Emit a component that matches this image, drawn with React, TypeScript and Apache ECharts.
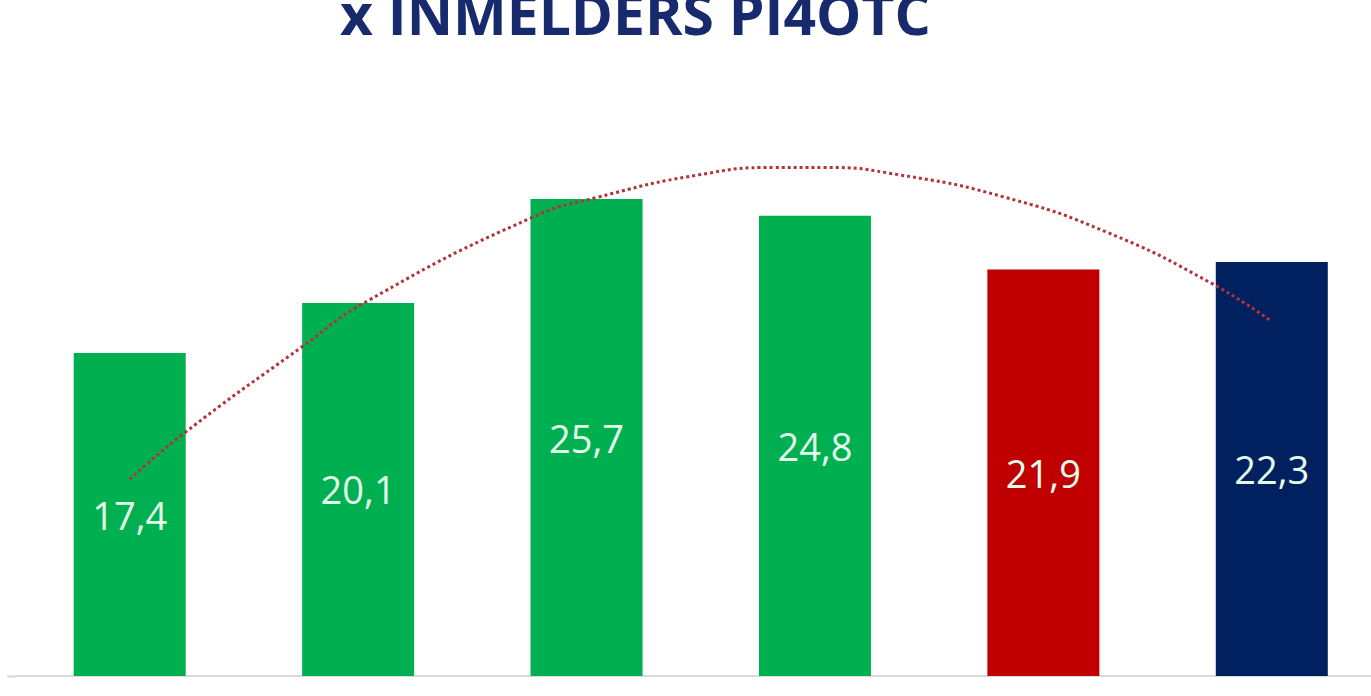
import React, { useEffect, useRef } from "react";
import * as echarts from "echarts";

const categories = ["1", "2", "3", "4", "5", "6"];
const values = [17.4, 20.1, 25.7, 24.8, 21.9, 22.3];
const barColors = ["#00b050", "#00b050", "#00b050", "#00b050", "#c00000", "#002060"];
const labels = ["17,4", "20,1", "25,7", "24,8", "21,9", "22,3"];
// trend curve: [category position, value]
const trendX = [0, 0.24, 0.75, 1.04, 1.76, 2.05, 2.49, 2.82, 3.04, 3.37, 3.83, 4.28, 4.73, 5];
const trendY = [10.6, 13.1, 17.7, 20.2, 24.7, 25.8, 27.0, 27.4, 27.4, 27.0, 25.8, 23.9, 21.2, 19.1];
const titleText = "x INMELDERS PI4OTC";

export default function App() {
  const ref = useRef<HTMLDivElement>(null);
  useEffect(() => {
    document.body.style.margin = "0";
    document.body.style.overflow = "hidden";
    document.documentElement.style.overflow = "hidden";
    const chart = echarts.init(ref.current!, undefined, { renderer: "svg" });
    chart.setOption({
      animation: false,
      backgroundColor: "#ffffff",
      graphic: [
        {
          type: "text",
          left: 340,
          top: -16,
          style: {
            text: titleText,
            fill: "#172a6e",
            font: "bold 57px 'Open Sans', sans-serif",
          },
        },
        {
          type: "line",
          shape: { x1: 7, y1: 676.5, x2: 16, y2: 676.5 },
          style: { stroke: "#d9d9d9", lineWidth: 2 },
        },
      ],
      grid: { left: 15.5, right: 0, top: 26.4, bottom: 20 },
      xAxis: [
        {
          type: "category",
          data: categories,
          axisLine: { lineStyle: { color: "#d9d9d9", width: 2 } },
          axisTick: { show: false },
          axisLabel: { show: false },
        },
        {
          type: "value",
          min: -0.5,
          max: 5.5,
          show: false,
        },
      ],
      yAxis: {
        type: "value",
        min: 0,
        max: 35,
        show: false,
        splitLine: { show: false },
      },
      series: [
        {
          type: "bar",
          barWidth: 112,
          data: values.map((v, i) => ({
            value: v,
            itemStyle: { color: barColors[i] },
          })),
          label: {
            show: true,
            position: "inside",
            formatter: (p: any) => labels[p.dataIndex],
            color: "#e3fbea",
            fontSize: 38,
            fontFamily: "'Open Sans', sans-serif",
          },
        },
        {
          type: "line",
          xAxisIndex: 1,
          smooth: true,
          symbol: "none",
          data: trendX.map((x, i) => [x, trendY[i]]),
          lineStyle: { color: "#b3333a", width: 3, type: [3, 3] },
          z: 5,
        },
      ],
    });
    return () => chart.dispose();
  }, []);
  return (
    <div style={{ width: 1371, height: 696, overflow: "hidden" }}>
      <div ref={ref} style={{ width: 1386, height: 696 }} />
    </div>
  );
}
